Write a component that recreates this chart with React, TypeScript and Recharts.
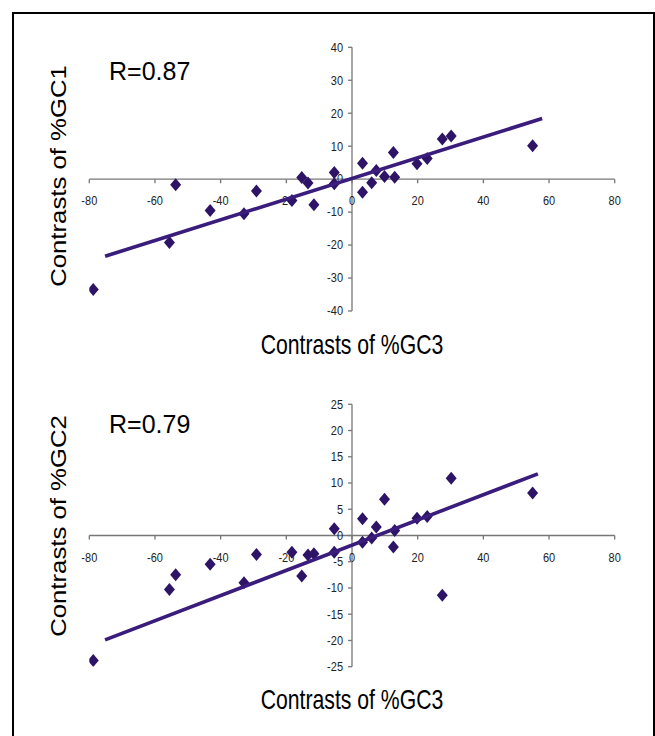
import React from 'react';
import { ScatterChart, Scatter, XAxis, YAxis, ReferenceLine, ReferenceDot } from 'recharts';

// Contrasts of %GC3 (shared x values)
const gc3Contrasts = [-78.8, -55.6, -53.7, -43.2, -32.9, -29.1, -18.3, -15.3, -13.4, -11.6, -5.4, -5.4, 3.2, 3.2, 6.0, 7.4, 9.9, 12.6, 13.0, 19.8, 22.9, 27.5, 30.2, 55.0];
// Contrasts of %GC1
const gc1Contrasts = [-33.5, -19.2, -1.7, -9.5, -10.5, -3.6, -6.5, 0.5, -1.2, -7.8, 2.0, -1.4, 4.8, -4.0, -1.1, 2.6, 0.8, 8.1, 0.6, 4.7, 6.3, 12.2, 13.1, 10.1];
// Contrasts of %GC2
const gc2Contrasts = [-23.8, -10.3, -7.5, -5.5, -9.0, -3.6, -3.2, -7.7, -3.7, -3.5, 1.3, -3.2, 3.2, -1.3, -0.5, 1.6, 6.9, -2.2, 0.95, 3.3, 3.6, -11.4, 10.9, 8.1];

// Trend line end points
const trendGC1X = [-75.2, 57.9];
const trendGC1Y = [-23.4, 18.4];
const trendGC2X = [-75.2, 56.6];
const trendGC2Y = [-19.9, 11.75];

// Ticks
const xTicks = [-80, -60, -40, -20, 0, 20, 40, 60, 80];
const gc1Ticks = [-40, -30, -20, -10, 0, 10, 20, 30, 40];
const gc2Ticks = [-25, -20, -15, -10, -5, 0, 5, 10, 15, 20, 25];

const FONT = '"Liberation Sans", Arial, Helvetica, sans-serif';
const AXIS = '#777777';
const POINT = '#2D1466';
const LINE = '#3A1C7C';

const zip = (xs: number[], ys: number[]) => xs.map((x, i) => ({ x, y: ys[i] }));

const Diamond = (p: any) => {
  const { cx, cy } = p;
  if (cx == null || cy == null) return <g />;
  return (
    <polygon
      points={`${cx},${cy - 6.5} ${cx + 5.5},${cy} ${cx},${cy + 6.5} ${cx - 5.5},${cy}`}
      fill={POINT}
    />
  );
};

const NoShape = () => <g />;

const XTick = (p: any) => {
  const { cx, cy, value } = p;
  return (
    <g>
      <line x1={cx} y1={cy} x2={cx} y2={cy + 4} stroke={AXIS} strokeWidth={1.3} />
      <text
        transform={`translate(${cx},${cy + 22}) scale(1,1.12)`}
        textAnchor="middle"
        dy="0.35em"
        fontSize={11}
        fontFamily={FONT}
        fill="#222"
      >
        {value}
      </text>
    </g>
  );
};

const YTick = (p: any) => {
  const { cx, cy, value } = p;
  return (
    <g>
      <line x1={cx - 4} y1={cy} x2={cx} y2={cy} stroke={AXIS} strokeWidth={1.3} />
      <text
        transform={`translate(${cx - 9},${cy}) scale(1,1.12)`}
        textAnchor="end"
        dy="0.35em"
        fontSize={11}
        fontFamily={FONT}
        fill="#222"
      >
        {value}
      </text>
    </g>
  );
};

type PanelProps = {
  ys: number[];
  yDomain: [number, number];
  yTicks: number[];
  trendX: number[];
  trendY: number[];
  height: number;
  margin: { top: number; bottom: number; left: number; right: number };
};

const Panel = ({ ys, yDomain, yTicks, trendX, trendY, height, margin }: PanelProps) => {
  const pts = zip(gc3Contrasts, ys);
  const trend = zip(trendX, trendY);
  return (
    <ScatterChart width={655} height={height} margin={margin}>
      <XAxis type="number" dataKey="x" domain={[-80, 80]} allowDataOverflow hide />
      <YAxis type="number" dataKey="y" domain={yDomain} allowDataOverflow hide />
      <ReferenceLine y={0} stroke={AXIS} strokeWidth={1.3} ifOverflow="visible" />
      <ReferenceLine x={0} stroke={AXIS} strokeWidth={1.3} ifOverflow="visible" />
      {xTicks.map((t) => (
        <ReferenceDot
          key={`x${t}`}
          x={t}
          y={0}
          r={0}
          ifOverflow="visible"
          shape={(p: any) => <XTick {...p} value={t} />}
        />
      ))}
      {yTicks.map((t) => (
        <ReferenceDot
          key={`y${t}`}
          x={0}
          y={t}
          r={0}
          ifOverflow="visible"
          shape={(p: any) => <YTick {...p} value={t} />}
        />
      ))}
      <Scatter data={pts} shape={Diamond} isAnimationActive={false} />
      <Scatter
        data={trend}
        line={{ stroke: LINE, strokeWidth: 3.6 }}
        shape={NoShape}
        isAnimationActive={false}
      />
    </ScatterChart>
  );
};

export default function App() {
  return (
    <div style={{ position: 'absolute', left: 0, top: 0, width: 655, height: 736, overflow: 'hidden', background: '#fff' }}>
      <div
        style={{
          position: 'absolute',
          left: 12,
          top: 12,
          width: 639,
          height: 760,
          border: '2px solid #000',
        }}
      />
      <div style={{ position: 'absolute', left: 0, top: 0 }}>
        <Panel
          ys={gc1Contrasts}
          yDomain={[-40, 40]}
          yTicks={gc1Ticks}
          trendX={trendGC1X}
          trendY={trendGC1Y}
          height={360}
          margin={{ top: 47.3, bottom: 49, left: 89.3, right: 40.3 }}
        />
      </div>
      <div style={{ position: 'absolute', left: 0, top: 360 }}>
        <Panel
          ys={gc2Contrasts}
          yDomain={[-25, 25]}
          yTicks={gc2Ticks}
          trendX={trendGC2X}
          trendY={trendGC2Y}
          height={376}
          margin={{ top: 44.3, bottom: 69.3, left: 89.3, right: 40.3 }}
        />
      </div>
      <svg
        width={655}
        height={736}
        style={{ position: 'absolute', left: 0, top: 0, pointerEvents: 'none' }}
        fontFamily={FONT}
      >
        <text x={109} y={80} fontSize={25} fill="#000">R=0.87</text>
        <text x={109} y={432.5} fontSize={25} fill="#000">R=0.79</text>
        <text transform="translate(352,354.3) scale(1,1.27)" textAnchor="middle" fontSize={21.2} fill="#000">
          Contrasts of %GC3
        </text>
        <text transform="translate(352,709.3) scale(1,1.27)" textAnchor="middle" fontSize={21.2} fill="#000">
          Contrasts of %GC3
        </text>
        <text transform="translate(66,176) rotate(-90) scale(1.17,1)" textAnchor="middle" fontSize={22} fill="#000">
          Contrasts of %GC1
        </text>
        <text transform="translate(66,526) rotate(-90) scale(1.17,1)" textAnchor="middle" fontSize={22} fill="#000">
          Contrasts of %GC2
        </text>
      </svg>
    </div>
  );
}
